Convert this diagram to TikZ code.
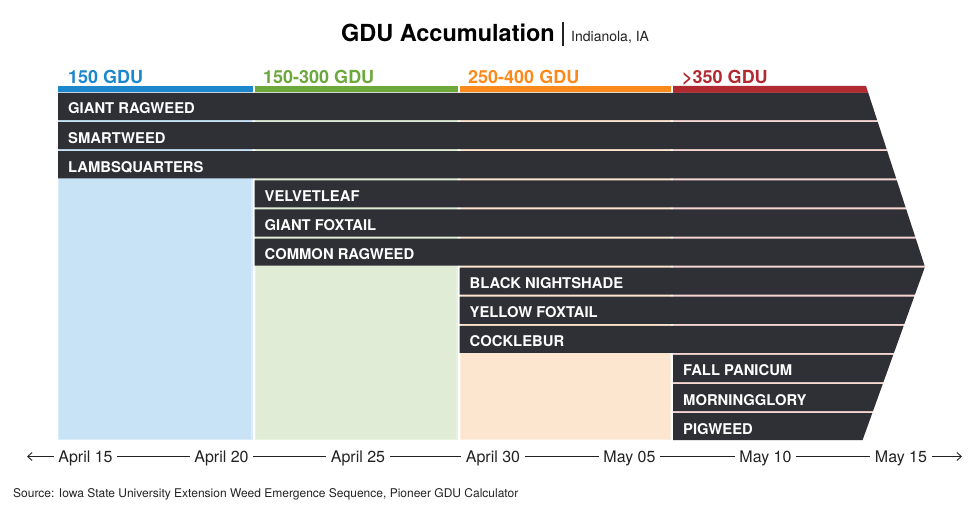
\documentclass[tikz,border=0pt]{standalone}
\usepackage{fontspec}
\setmainfont{TeX Gyre Heros}
\usetikzlibrary{arrows.meta}
\definecolor{rowdark}{HTML}{2F3035}
\definecolor{lblue}{HTML}{C8E3F5}
\definecolor{lblueedge}{HTML}{D9ECF9}
\definecolor{lgreen}{HTML}{E0ECD6}
\definecolor{lgreenedge}{HTML}{E8F1E0}
\definecolor{lpeach}{HTML}{FDE6CF}
\definecolor{lpeachedge}{HTML}{FEEEDF}
\definecolor{lpink}{HTML}{F6D6D2}
\definecolor{hblue}{HTML}{1C87CA}
\definecolor{hgreen}{HTML}{6CA83C}
\definecolor{horange}{HTML}{FB8A1C}
\definecolor{hred}{HTML}{B22A31}
\definecolor{txtdark}{HTML}{222222}
\begin{document}
\begin{tikzpicture}[x=1pt,y=-1pt,
  rowlabel/.style={anchor=base west, inner sep=0pt, text=white, font=\bfseries\fontsize{14.8}{14.8}\selectfont},
  hdrlabel/.style={anchor=base west, inner sep=0pt, font=\bfseries\fontsize{18}{18}\selectfont},
  datelabel/.style={anchor=center, inner xsep=4.5pt, inner ysep=0pt, text height=11.5pt, text depth=0pt, text=txtdark, font=\fontsize{16}{16}\selectfont},
  axisline/.style={draw=txtdark, line width=0.9pt},
  axisarrow/.style={axisline, -{Straight Barb[length=4.5pt,width=8pt]}}
]
\useasboundingbox (0,0) rectangle (975,508);

% title
\node[anchor=base east, inner sep=0pt, font=\bfseries\fontsize{23.5}{23.5}\selectfont] (title) at (555,41.7) {GDU Accumulation};
\draw[line width=1.1pt, txtdark] (563,21.7) -- (563,46);
\node[anchor=base west, inner sep=0pt, text=txtdark, font=\fontsize{14}{14}\selectfont] (place) at (571,41.7) {Indianola, IA};

% header bars
\fill[hblue] (58,86) rectangle (252.5,93);
\fill[hgreen] (254.5,86) rectangle (457.5,93);
\fill[horange] (459.5,86) rectangle (671,93);
\fill[hred] (673,86) -- (866,86) -- (868.3,93) -- (673,93) -- cycle;

\node[hdrlabel, text=hblue] (h1) at (68,84) {150 GDU};
\node[hdrlabel, text=hgreen] (h2) at (263,84) {150-300 GDU};
\node[hdrlabel, text=horange] (h3) at (468,84) {250-400 GDU};
\node[hdrlabel, text=hred] (h4) at (682,84) {>350 GDU};

% column backgrounds
\fill[lblue] (58,93) rectangle (252.5,440);
\draw[lblueedge, line width=1.2pt] (58.6,93) rectangle (251.9,439.4);
\fill[lgreen] (254.5,93) rectangle (457.5,440);
\draw[lgreenedge, line width=1.2pt] (255.1,93) rectangle (456.9,439.4);
\fill[lpeach] (459.5,93) rectangle (671,440);
\draw[lpeachedge, line width=1.2pt] (460.1,93) rectangle (670.4,439.4);
\fill[lpink] (673,93) -- (868.3,93) -- (925,266.6) -- (862.6,440) -- (673,440) -- cycle;

% weed rows
\foreach \i/\xs/\lab in {0/58/GIANT RAGWEED,1/58/SMARTWEED,2/58/LAMBSQUARTERS,
  3/254.5/VELVETLEAF,4/254.5/GIANT FOXTAIL,5/254.5/COMMON RAGWEED,
  6/459.5/BLACK NIGHTSHADE,7/459.5/YELLOW FOXTAIL,8/459.5/COCKLEBUR,
  9/673/FALL PANICUM,10/673/MORNINGGLORY,11/673/PIGWEED}{
  \pgfmathsetmacro\yt{93+\i*29.1}
  \pgfmathsetmacro\yb{\yt+27.1}
  \pgfmathsetmacro\xt{\yt<266.6 ? 866+(\yt-86)*0.326 : 925-(\yt-266.6)*0.36}
  \pgfmathsetmacro\xb{\yb<266.6 ? 866+(\yb-86)*0.326 : 925-(\yb-266.6)*0.36}
  \fill[rowdark] (\xs,\yt) -- (\xt,\yt) -- (\xb,\yb) -- (\xs,\yb) -- cycle;
  \node[rowlabel] (w\i) at (\xs+10,\yt+21) {\lab};
}

% date axis
\node[datelabel] (d1) at (85.5,456.5) {April 15};
\node[datelabel] (d2) at (221.5,456.5) {April 20};
\node[datelabel] (d3) at (358,456.5) {April 25};
\node[datelabel] (d4) at (493,456.5) {April 30};
\node[datelabel] (d5) at (629.5,456.5) {May 05};
\node[datelabel] (d6) at (765.5,456.5) {May 10};
\node[datelabel] (d7) at (901,456.5) {May 15};
\coordinate (aleft) at (27,456.5);
\coordinate (aright) at (962,456.5);
\draw[axisarrow] (d1.west) -- (aleft);
\draw[axisline] (d1.east) -- (d2.west);
\draw[axisline] (d2.east) -- (d3.west);
\draw[axisline] (d3.east) -- (d4.west);
\draw[axisline] (d4.east) -- (d5.west);
\draw[axisline] (d5.east) -- (d6.west);
\draw[axisline] (d6.east) -- (d7.west);
\draw[axisarrow] (d7.east) -- (aright);

% source
\node[anchor=base west, inner sep=0pt, text=txtdark, font=\fontsize{12}{12}\selectfont] (src) at (13,497.3) {Source: Iowa State University Extension Weed Emergence Sequence, Pioneer GDU Calculator};
\end{tikzpicture}
\end{document}
